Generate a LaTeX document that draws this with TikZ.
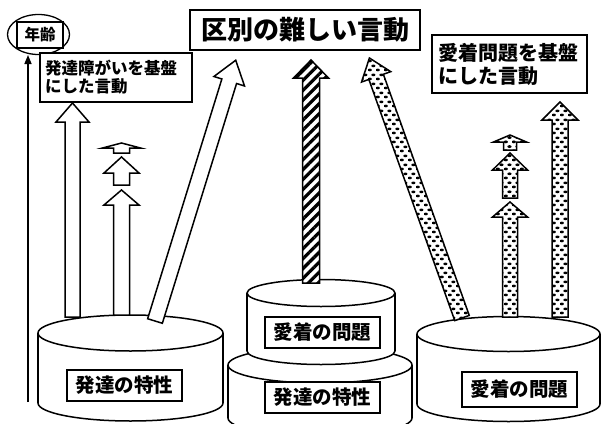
\documentclass[tikz,border=0pt]{standalone}
\usepackage{fontspec}
\setmainfont{Noto Sans CJK JP}
\usetikzlibrary{patterns.meta,arrows.meta}

\tikzdeclarepattern{
  name=ovaldots, type=uncolored,
  bounding box={(0pt,0pt) and (8pt,9pt)},
  tile size={(8pt,9pt)},
  code={
    \fill (2pt,2.25pt) ellipse [x radius=2.3pt, y radius=1.5pt];
    \fill (6pt,6.75pt) ellipse [x radius=2.3pt, y radius=1.5pt];
  }}

\tikzset{
  cyl/.style={line width=1.5pt, fill=white},
  whitearrow/.style={draw=black, line width=1.5pt, fill=white, line join=miter},
  dotarrow/.style={draw=black, line width=1.5pt, preaction={fill=white}, pattern=ovaldots, line join=miter},
  hatcharrow/.style={draw=black, line width=1.5pt, preaction={fill=white},
    pattern={Lines[angle=45,distance=7pt,line width=3.2pt]}, line join=miter},
  textbox/.style={draw, line width=1.6pt, fill=white, font=\bfseries, inner sep=0pt},
  labelbox/.style={textbox, minimum width=115, minimum height=31,
    font=\bfseries\fontsize{19.5}{22}\selectfont},
}

% #1 x, #2 y, #3 rotation, #4 length, #5 shaft half width, #6 head half width, #7 head length, #8 style
\newcommand\bigarw[8]{%
  \path[shift={(#1,#2)},rotate=#3,#8]
    ({-#5},0) -- ({-#5},{-(#4)+(#7)}) -- ({-#6},{-(#4)+(#7)}) -- (0,{-(#4)})
    -- ({#6},{-(#4)+(#7)}) -- ({#5},{-(#4)+(#7)}) -- ({#5},0) -- cycle;}

% #1 cx, #2 top y, #3 bottom y, #4 rx, #5 ry
\newcommand\cylinder[5]{%
  \draw[cyl] (#1,#3) ellipse [x radius=#4, y radius=#5];
  \fill[white] ({#1-#4},#2) rectangle ({#1+#4},#3);
  \draw[line width=1.5pt] ({#1-#4},#2) -- ({#1-#4},#3) ({#1+#4},#2) -- ({#1+#4},#3);
  \draw[cyl] (#1,#2) ellipse [x radius=#4, y radius=#5];}

\begin{document}
\begin{tikzpicture}[x=1pt,y=-1pt]
\useasboundingbox (0,0) rectangle (602,423);
\clip (0,0) rectangle (602,423);

% age axis
\coordinate (ax0) at (28,402);
\coordinate (ax1) at (28,55);
\draw[line width=1.5pt, -{Triangle[length=9pt,width=7pt]}] (ax0) -- (ax1);
\draw[line width=1.3pt, fill=white] (38.5,34.5) ellipse [x radius=31, y radius=20];
\node[textbox, minimum width=46, minimum height=26, line width=1.3pt,
  font=\bfseries\fontsize{15.5}{18}\selectfont] (age) at (40,35) {年齢};

% cylinders
\cylinder{130.5}{333}{403}{92.5}{18}
\cylinder{320}{365}{418}{92}{18}
\cylinder{321}{293}{351}{74}{13.5}
\cylinder{508.5}{334}{404}{91.5}{17.5}

% arrows from the left cylinder
\bigarw{72.5}{317}{0}{214}{7.5}{16.5}{19}{whitearrow}
\bigarw{121.5}{315}{0}{125}{8}{17.5}{15}{whitearrow}
\bigarw{121.5}{185}{0}{28}{8}{17.5}{16}{whitearrow}
\bigarw{121.5}{153}{0}{10}{8}{19}{5}{whitearrow}
\bigarw{155}{321}{-17.2}{273}{7.7}{16}{22}{whitearrow}

% middle arrow
\bigarw{311}{283}{0}{223}{8.5}{17.5}{18}{hatcharrow}

% arrows from the right cylinder
\bigarw{462}{318}{19.6}{276}{7.7}{15.5}{20}{dotarrow}
\bigarw{510}{317}{0}{115}{7.5}{17.5}{15}{dotarrow}
\bigarw{510}{198}{0}{45}{7.5}{17.5}{17}{dotarrow}
\bigarw{510}{150}{0}{15}{6.5}{16.5}{7}{dotarrow}
\bigarw{560}{317}{0}{215}{8}{18}{18}{dotarrow}

% text boxes
\node[textbox, line width=2.2pt, minimum width=230, minimum height=40,
  font=\bfseries\fontsize{26}{30}\selectfont] (title) at (305,30) {区別の難しい言動};
\node[textbox, minimum width=152, minimum height=49, text width=142, align=left,
  font=\bfseries\fontsize{16.5}{18}\selectfont] (devbox) at (116,77.5)
  {発達障がいを基盤\\にした言動};
\node[textbox, minimum width=155, minimum height=58, text width=143, align=left,
  font=\bfseries\fontsize{20}{23}\selectfont] (attbox) at (509.5,64)
  {愛着問題を基盤\\にした言動};

\node[labelbox] (l1) at (124.5,385.5) {発達の特性};
\node[labelbox] (m1) at (322.5,332.5) {愛着の問題};
\node[labelbox] (m2) at (322.5,397.5) {発達の特性};
\node[labelbox, minimum height=35] (r1) at (519.5,389.5) {愛着の問題};
\end{tikzpicture}
\end{document}
